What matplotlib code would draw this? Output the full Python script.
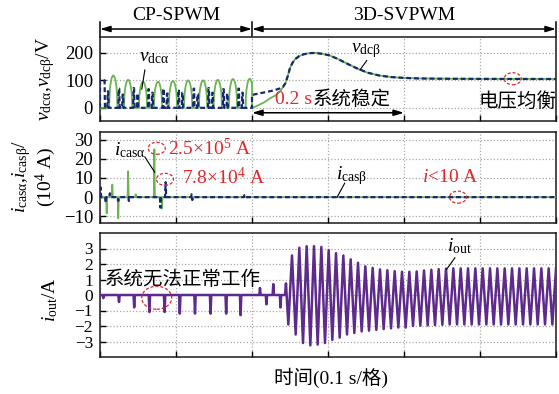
import numpy as np
import matplotlib
matplotlib.use("Agg")
import matplotlib.pyplot as plt
from matplotlib.patches import Ellipse
from matplotlib.transforms import ScaledTranslation

plt.rcParams["font.family"] = ["Liberation Serif", "Noto Sans CJK SC"]
plt.rcParams["mathtext.fontset"] = "custom"
plt.rcParams["mathtext.rm"] = "Liberation Serif"
plt.rcParams["mathtext.it"] = "Liberation Serif:italic"
plt.rcParams["mathtext.bf"] = "Liberation Serif:bold"
plt.rcParams["axes.unicode_minus"] = True

GREEN = "#6ab550"
NAVY = "#17296e"
PURPLE = "#5e2b8c"
RED = "#e3262b"

T_SWITCH = 0.2
T_END = 0.6

# ---------------- DC-link voltages (V) ----------------
# CP-SPWM: v_dc_alpha pulses (peak time, peak value)
va_pulse_t = [0.0175, 0.0370, 0.0566, 0.0763, 0.0960, 0.1160, 0.1356, 0.1550, 0.1750, 0.1970]
va_pulse_v = [118, 102, 95, 95, 98, 100, 100, 102, 105, 106]
# CP-SPWM: v_dc_beta start level and spikes
vb_start_v = 100
vb_spike_t = [0.0105, 0.0250, 0.0300, 0.0445, 0.0495, 0.0640, 0.0690, 0.0835, 0.0885,
              0.1035, 0.1085, 0.1235, 0.1285, 0.1430, 0.1480, 0.1625, 0.1675, 0.1825, 0.1875]
vb_spike_v = [60, 70, 48, 72, 52, 68, 55, 70, 52, 66, 55, 70, 50, 72, 55, 68, 52, 70, 55]
# 3D-SVPWM: early rise of each voltage
va_rise_t = [0.2000, 0.2050, 0.2100, 0.2160, 0.2240, 0.2320, 0.2370]
va_rise_v = [0, 5, 12, 20, 35, 47, 60]
vb_rise_t = [0.2000, 0.2140, 0.2280, 0.2360]
vb_rise_v = [47, 55, 63, 70]
# 3D-SVPWM: common settling trajectory of both voltages
settle_t = [0.241, 0.244, 0.247, 0.250, 0.2535, 0.257, 0.262, 0.268, 0.275, 0.283, 0.292,
            0.302, 0.313, 0.325, 0.338, 0.352, 0.367, 0.383, 0.400, 0.420, 0.450, 0.500, 0.600]
settle_v = [77, 90, 115, 145, 165, 178, 188, 195, 199, 200, 197,
            191, 178, 161, 144, 128, 118, 112, 109, 107, 106, 105.5, 105]

# ---------------- cascade currents (1e4 A) ----------------
ia_spike_t = [0.0088, 0.0162, 0.0240, 0.0370, 0.0470, 0.0715, 0.0815]
ia_spike_v = [-8.5, 6.5, -11, 13.5, 1.5, 25, -6]
ib_spike_t = [0.0008, 0.0075, 0.0130, 0.0240, 0.0380, 0.0795, 0.0864, 0.1205, 0.1215, 0.1900]
ib_spike_v = [5, -3, 2, -2, -2, -5.5, 7.8, 1.5, -1.5, 1]

# ---------------- output current (A) ----------------
iout_dip_t = [0.0044, 0.0250, 0.0450, 0.0650, 0.0850, 0.1050, 0.1250, 0.1455, 0.1660, 0.1850]
iout_dip_v = [-0.2, -0.45, -0.8, -1.1, -1.1, -1.2, -1.2, -1.2, -1.2, -1.3]
iout_trans_t = [0.2105, 0.2190, 0.2280, 0.2375, 0.2447]
iout_trans_v = [0.45, -0.6, 0.7, -0.8, 0.75]
osc_t0 = 0.2478
osc_period = 0.00965
iout_neg_peak = [-1.9, -2.55, -3.1, -3.25, -3.2, -3.1, -2.9, -2.75, -2.55, -2.45, -2.35, -2.3,
                 -2.25, -2.2, -2.15, -2.1, -2.1, -2.0, -1.98, -1.96, -1.94, -1.92, -1.9, -1.9,
                 -1.9, -1.9, -1.9, -1.9, -1.9, -1.9, -1.9, -1.9, -1.9, -1.9, -1.9, -1.9, -1.9]
iout_pos_peak = [2.55, 3.05, 3.15, 3.15, 3.1, 2.9, 2.7, 2.55, 2.3, 2.08, 1.85, 1.75,
                 1.65, 1.6, 1.54, 1.5, 1.5, 1.52, 1.58, 1.63, 1.67, 1.7, 1.72, 1.72,
                 1.72, 1.72, 1.72, 1.72, 1.72, 1.72, 1.72, 1.72, 1.72, 1.72, 1.72, 1.72, 1.72]


def spike_trace(times, values, half_width):
    t, v = [], []
    for tc, a in zip(times, values):
        t += [tc - half_width, tc, tc + half_width]
        v += [0.0, a, 0.0]
    return t, v


def flat_spike_trace(times, values, half_width, top):
    t, v = [], []
    for tc, a in zip(times, values):
        t += [tc - half_width, tc - top, tc + top, tc + half_width]
        v += [0.0, a, a, 0.0]
    return t, v


def pulse_trace(times, values, half_width, t_stop):
    u = np.linspace(-1, 1, 17)
    shape = np.cos(np.pi / 2 * u) ** 0.45
    t, v = [], []
    for tc, a in zip(times, values):
        tt = tc + half_width * u
        vv = a * shape
        keep = tt <= t_stop
        t += list(tt[keep])
        v += list(vv[keep])
    return t, v


W, H = 559, 394
fig = plt.figure(figsize=(W / 100, H / 100), dpi=100)


def px_axes(top, bottom, left=100, right=556):
    return fig.add_axes([left / W, 1 - bottom / H, (right - left) / W, (bottom - top) / H])


ax1 = px_axes(37, 121)
ax2 = px_axes(132, 223)
ax3 = px_axes(233, 357)

for ax in (ax1, ax2, ax3):
    ax.set_xlim(0, T_END)
    ax.set_xticks(np.arange(0, 0.61, 0.1))
    ax.set_xticklabels([])
    ax.tick_params(direction="in", length=4, width=1.0, labelsize=13.5, pad=5,
                   top=False, right=False)
    ax.grid(True, color="#a8a8a8", linestyle=(0, (1, 1.6)), linewidth=0.9)
    ax.set_axisbelow(True)
    for s in ax.spines.values():
        s.set_linewidth(1.1)
        s.set_color("#1a1a1a")

# ---------------- panel 1: DC-link voltages ----------------
gt, gv = [0.0], [0.0]
pt, pv = pulse_trace(va_pulse_t, va_pulse_v, 0.0055, T_SWITCH)
gt += pt + [T_SWITCH, T_SWITCH]
gv += pv + [pv[-1], 0.0]
gt += va_rise_t + settle_t
gv += va_rise_v + settle_v

bt, bv = [0.0, 0.0, 0.006, 0.0065], [0.0, vb_start_v, vb_start_v, 0.0]
st, sv = flat_spike_trace(vb_spike_t, vb_spike_v, 0.0009, 0.0003)
bt += st + [T_SWITCH]
bv += sv + [0.0]
bt += vb_rise_t + settle_t
bv += vb_rise_v + settle_v

ax1.plot(gt, gv, color=GREEN, lw=1.3, zorder=3)
ax1.plot(bt, bv, color=NAVY, lw=1.6, ls=(0, (2.2, 1.3)), zorder=4)
ax1.set_ylim(-48, 258)
ax1.set_yticks([0, 100, 200])

# ---------------- panel 2: cascade currents ----------------
at, av = spike_trace(ia_spike_t, ia_spike_v, 0.0007)
ax2.plot([0] + at + [T_END], [0] + av + [0], color=GREEN, lw=1.3, zorder=3)
ct, cv = spike_trace(ib_spike_t, ib_spike_v, 0.0007)
ax2.plot([0] + ct + [T_END], [0] + cv + [0], color=NAVY, lw=1.6,
         ls=(0, (2.2, 1.3)), zorder=4)
ax2.set_ylim(-13.5, 34)
ax2.set_yticks([-10, 0, 10, 20, 30])

# ---------------- panel 3: output current ----------------
dt, dv = spike_trace(iout_dip_t, iout_dip_v, 0.0009)
tt, tv = spike_trace(iout_trans_t[:-1], iout_trans_v[:-1], 0.0009)
k = np.arange(len(iout_neg_peak))
osc_t = np.empty(2 * len(k))
osc_v = np.empty(2 * len(k))
osc_t[0::2] = osc_t0 + k * osc_period
osc_t[1::2] = osc_t0 + (k + 0.5) * osc_period
osc_v[0::2] = iout_neg_peak
osc_v[1::2] = iout_pos_peak
ot = [0.0] + dt + tt + [iout_trans_t[-1] - 0.0012, iout_trans_t[-1]] + list(osc_t)
ov = [0.0] + dv + tv + [0.0, iout_trans_v[-1]] + list(osc_v)
ax3.plot(ot, ov, color=PURPLE, lw=1.8, zorder=3)
ax3.set_ylim(-4, 4)
ax3.set_yticks([-3, -2, -1, 0, 1, 2, 3])
ax3.tick_params(labelsize=12.5)

# ---------------- annotations ----------------
FS = 14


def ring(ax, x, y, w_px, h_px):
    tr = fig.dpi_scale_trans + ScaledTranslation(x, y, ax.transData)
    e = Ellipse((0, 0), w_px / 100, h_px / 100, transform=tr, fill=False,
                ec=RED, lw=0.9, ls=(0, (2.5, 1.5)), clip_on=False, zorder=6)
    ax.add_artist(e)


def leader(ax, x0, y0, x1, y1):
    ax.plot([x0, x1], [y0, y1], color="k", lw=0.8, zorder=6)


ARW = dict(arrowstyle="<|-|>,head_length=0.6,head_width=0.18", color="k", lw=1.1,
           shrinkA=0, shrinkB=0)

# mode spans above the top panel
xt = ax1.get_xaxis_transform()
for x0, x1 in [(0.0, T_SWITCH), (T_SWITCH, T_END)]:
    ax1.annotate("", xy=(x1, 1.095), xytext=(x0, 1.095), xycoords=xt, textcoords=xt,
                 arrowprops=ARW, annotation_clip=False)
for xb in (0.0, T_SWITCH, T_END):
    ax1.plot([xb, xb], [1.012, 1.18], transform=xt, color="k", lw=1.1, clip_on=False)
ax1.text(0.1, 1.25, "CP-SPWM", transform=xt, ha="center", va="center", fontsize=FS)
ax1.text(0.4, 1.25, "3D-SVPWM", transform=xt, ha="center", va="center", fontsize=FS)

# panel 1 labels
ax1.text(0.071, 182, r"$v_{\mathrm{dc\alpha}}$", ha="center", va="center", fontsize=FS)
leader(ax1, 0.059, 138, 0.055, 68)
ax1.text(0.350, 207, r"$v_{\mathrm{dc\beta}}$", ha="center", va="center", fontsize=FS)
leader(ax1, 0.351, 172, 0.342, 138)
ax1.annotate("", xy=(0.4, -18), xytext=(T_SWITCH, -18), arrowprops=ARW)
ax1.text(0.2305, 29, "0.2 s", color=RED, ha="left", va="center", fontsize=FS)
ax1.text(0.2795, 29, "系统稳定", ha="left", va="center", fontsize=FS)
ax1.text(0.601, 23, "电压均衡", ha="right", va="center", fontsize=FS)
ring(ax1, 0.543, 106, 17, 12)

# panel 2 labels
ax2.text(0.0395, 24.6, r"$i_{\mathrm{cas\alpha}}$", ha="center", va="center", fontsize=FS)
leader(ax2, 0.059, 21, 0.072, 13)
ring(ax2, 0.0746, 25.5, 17, 12)
ax2.text(0.0895, 25.6, r"2.5×10$^5$ A", color=RED, ha="left", va="center", fontsize=FS)
ring(ax2, 0.0855, 9.3, 17, 12)
ax2.text(0.108, 10.5, r"7.8×10$^4$ A", color=RED, ha="left", va="center", fontsize=FS)
ax2.text(0.331, 11.5, r"$i_{\mathrm{cas\beta}}$", ha="center", va="center", fontsize=FS)
leader(ax2, 0.322, 7.3, 0.312, 0)
ax2.text(0.424, 10, r"$i$<10 A", color=RED, ha="left", va="center", fontsize=FS)
ring(ax2, 0.471, 0, 17, 12)

# panel 3 labels
ax3.text(0.0066, 1.0, "系统无法正常工作", ha="left", va="center", fontsize=FS)
ring(ax3, 0.0746, -0.18, 30, 23)
ax3.text(0.4565, 3.15, r"$i_{\mathrm{out}}$", ha="left", va="center", fontsize=FS)
leader(ax3, 0.467, 2.4, 0.456, 1.65)

# axis titles
fig.text(46 / W, 1 - 79 / H, r"$v_{\mathrm{dc\alpha}}$,$v_{\mathrm{dc\beta}}$/V",
         rotation=90, ha="center", va="center", fontsize=FS)
fig.text(34 / W, 1 - 177 / H, "$i_{\\mathrm{cas\\alpha}}$,$i_{\\mathrm{cas\\beta}}$/\n(10$^4$ A)",
         rotation=90, ha="center", va="center", fontsize=FS, linespacing=1.0,
         multialignment="center")
fig.text(50 / W, 1 - 300 / H, r"$i_{\mathrm{out}}$/A", rotation=90, ha="center",
         va="center", fontsize=FS)
fig.text(331 / W, 1 - 378 / H, "时间(0.1 s/格)", ha="center", va="center", fontsize=FS)

fig.savefig("out.png", dpi=100)
